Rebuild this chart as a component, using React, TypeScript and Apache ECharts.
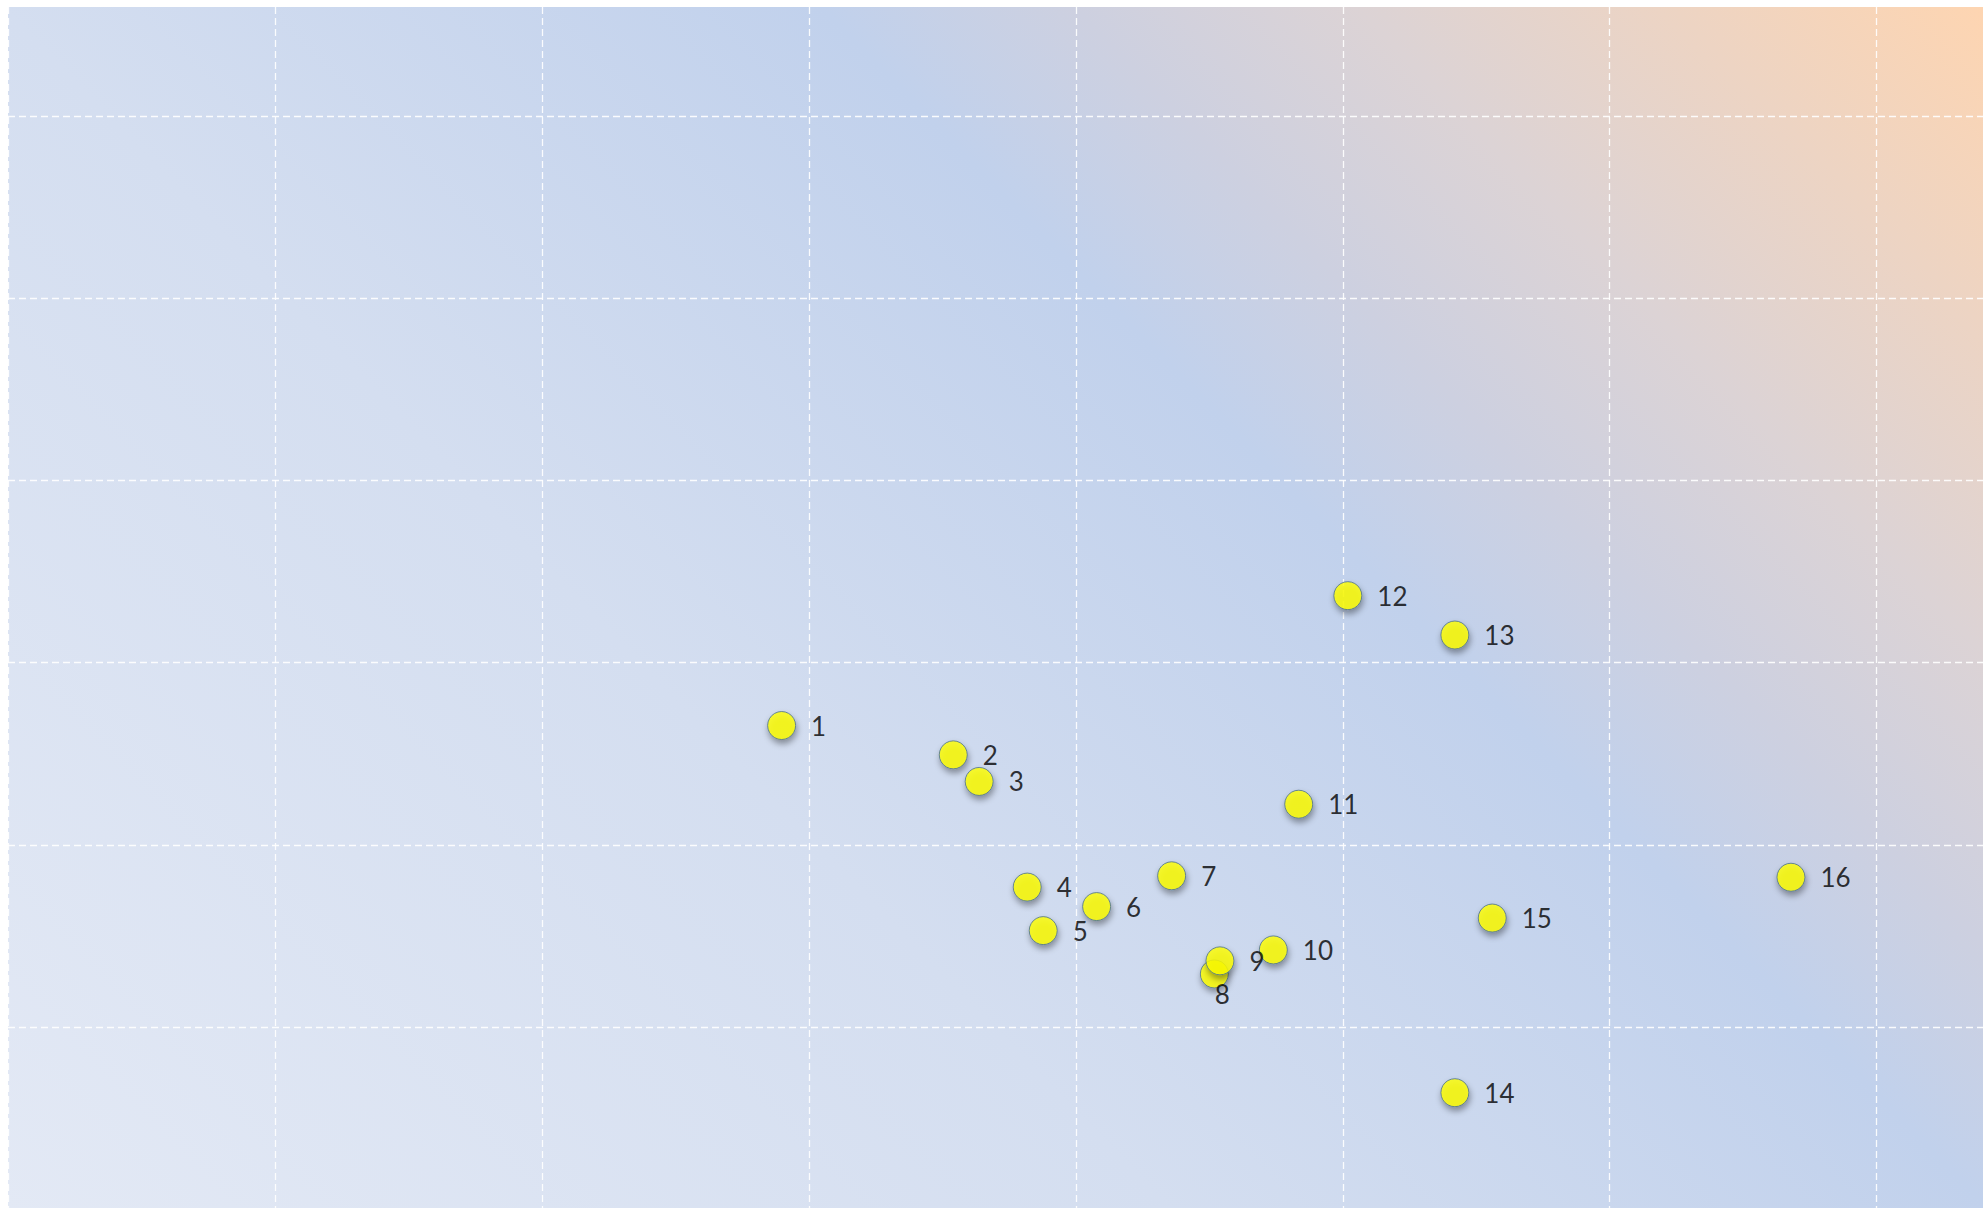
import React, { useEffect, useRef } from "react";
import * as echarts from "echarts";

// Point labels
const labels = ["1", "2", "3", "4", "5", "6", "7", "8", "9", "10", "11", "12", "13", "14", "15", "16"];
// X values
const xValues = [2.898, 3.541, 3.638, 3.818, 3.878, 4.078, 4.359, 4.519, 4.54, 4.74, 4.835, 5.019, 5.42, 5.42, 5.56, 6.679];
// Y values
const yValues = [2.655, 2.494, 2.348, 1.768, 1.529, 1.661, 1.83, 1.291, 1.363, 1.423, 2.223, 3.368, 3.152, 0.639, 1.598, 1.822];
// Labels placed below the marker instead of to the right
const belowLabels = ["8"];

export default function App() {
  const ref = useRef<HTMLDivElement>(null);
  useEffect(() => {
    if (!ref.current) return;
    const chart = echarts.init(ref.current, null, { renderer: "svg" });
    const data = labels.map((name, i) => {
      const item: any = { name, value: [xValues[i], yValues[i]] };
      if (belowLabels.includes(name)) {
        item.label = { position: "bottom", distance: -7, offset: [8, 0] };
      }
      return item;
    });
    const gridLine = {
      show: true,
      showMaxLine: false,
      lineStyle: { color: "rgba(255,255,255,0.9)", width: 1.3, type: [7, 4] },
    };
    chart.setOption({
      animation: false,
      backgroundColor: "#ffffff",
      grid: {
        show: true,
        left: 8,
        top: 7,
        width: 2135.6,
        height: 1202.1,
        outerBoundsMode: "none",
        containLabel: false,
        borderWidth: 0,
        backgroundColor: new echarts.graphic.LinearGradient(
          0,
          1208,
          1624,
          -369,
          [
            { offset: 0, color: "#e3e9f5" },
            { offset: 0.37, color: "#d4def0" },
            { offset: 0.63, color: "#c1d1ec" },
            { offset: 0.71, color: "#cdd0e0" },
            { offset: 0.8, color: "#dcd3d5" },
            { offset: 1, color: "#fed5b1" },
          ],
          true
        ),
      },
      xAxis: {
        type: "value",
        min: 0,
        max: 8,
        interval: 1,
        axisLine: { show: false },
        axisTick: { show: false },
        axisLabel: { show: false },
        splitLine: { ...gridLine, showMaxLine: true },
      },
      yAxis: {
        type: "value",
        min: 0,
        max: 6.6,
        interval: 1,
        axisLine: { show: false },
        axisTick: { show: false },
        axisLabel: { show: false },
        splitLine: gridLine,
      },
      series: [
        {
          type: "scatter",
          symbol: "circle",
          symbolSize: 28,
          data,
          itemStyle: {
            color: "#ffff00",
            borderColor: "#4a6f8f",
            borderWidth: 1,
            shadowColor: "rgba(0,0,0,0.45)",
            shadowBlur: 6,
            shadowOffsetX: 1,
            shadowOffsetY: 4,
          },
          label: {
            show: true,
            position: "right",
            distance: 15,
            formatter: "{b}",
            color: "#000000",
            fontFamily: "Lato",
            fontSize: 26,
          },
          emphasis: { disabled: true },
        },
      ],
    });
    return () => chart.dispose();
  }, []);
  return (
    <div
      style={{
        position: "absolute",
        left: 0,
        top: 0,
        width: 1983,
        height: 1208,
        overflow: "hidden",
        background: "#ffffff",
      }}
    >
      <div ref={ref} style={{ width: 2160, height: 1216 }} />
    </div>
  );
}
